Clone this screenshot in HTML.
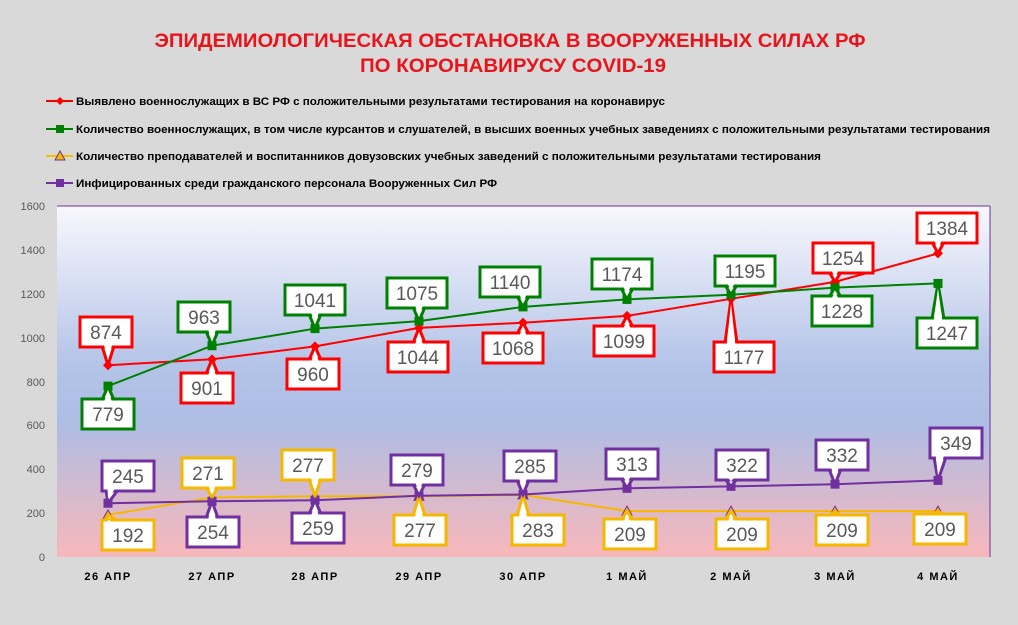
<!DOCTYPE html>
<html><head><meta charset="utf-8"><style>
body{margin:0;background:#d9d9d9;}
svg{display:block;font-family:"Liberation Sans","DejaVu Sans",sans-serif;}
</style></head><body>
<svg id="s" width="1018" height="625" viewBox="0 0 1018 625" xmlns="http://www.w3.org/2000/svg">
<defs>
<linearGradient id="bg" x1="0" y1="0" x2="0" y2="1">
<stop offset="0" stop-color="#f8f8fd"/>
<stop offset="0.45" stop-color="#b4c4e8"/>
<stop offset="0.62" stop-color="#aebde4"/>
<stop offset="1" stop-color="#f8b8bb"/>
</linearGradient>
</defs>
<rect width="1018" height="625" fill="#d9d9d9"/>
<text x="510" y="47" text-anchor="middle" font-size="19" font-weight="bold" fill="#e8141c" textLength="711" lengthAdjust="spacingAndGlyphs">ЭПИДЕМИОЛОГИЧЕСКАЯ ОБСТАНОВКА В ВООРУЖЕННЫХ СИЛАХ РФ</text>
<text x="513" y="72" text-anchor="middle" font-size="19" font-weight="bold" fill="#e8141c" textLength="306" lengthAdjust="spacingAndGlyphs">ПО КОРОНАВИРУСУ COVID-19</text>
<g font-size="11" font-weight="bold" fill="#000">
<line x1="46" y1="101" x2="73" y2="101" stroke="#ff0000" stroke-width="2"/><polygon points="60,97 64,101 60,105 56,101" fill="#ff0000"/>
<text x="76" y="105" textLength="589" lengthAdjust="spacingAndGlyphs">Выявлено военнослужащих в ВС РФ с положительными результатами тестирования на коронавирус</text>
<line x1="46" y1="129" x2="73" y2="129" stroke="#008000" stroke-width="2"/><rect x="56" y="125" width="8" height="8" fill="#008000"/>
<text x="76" y="133" textLength="914" lengthAdjust="spacingAndGlyphs">Количество военнослужащих, в том числе курсантов и слушателей, в высших военных учебных заведениях с положительными результатами тестирования</text>
<line x1="46" y1="156" x2="73" y2="156" stroke="#f5c000" stroke-width="2"/><polygon points="60,151 65,160 55,160" fill="#f5b800" stroke="#7030a0" stroke-width="1"/>
<text x="76" y="160" textLength="745" lengthAdjust="spacingAndGlyphs">Количество преподавателей и воспитанников довузовских учебных заведений с положительными результатами тестирования</text>
<line x1="46" y1="183" x2="73" y2="183" stroke="#7030a0" stroke-width="2"/><rect x="56" y="179" width="8" height="8" fill="#7030a0"/>
<text x="76" y="187" textLength="421" lengthAdjust="spacingAndGlyphs">Инфицированных среди гражданского персонала Вооруженных Сил РФ</text>
</g>
<rect x="57" y="206" width="933" height="351" fill="url(#bg)"/>
<line x1="57" y1="206" x2="990" y2="206" stroke="#7030a0" stroke-width="1"/>
<line x1="990" y1="206" x2="990" y2="557" stroke="#7030a0" stroke-width="1"/>
<g font-size="11" fill="#595959" text-anchor="end">
<text x="45" y="210">1600</text><text x="45" y="254">1400</text><text x="45" y="298">1200</text>
<text x="45" y="342">1000</text><text x="45" y="386">800</text><text x="45" y="429">600</text>
<text x="45" y="473">400</text><text x="45" y="517">200</text><text x="45" y="561">0</text>
</g>
<g font-size="11" font-weight="bold" fill="#000" text-anchor="middle" letter-spacing="1.5">
<text x="108" y="580">26 АПР</text><text x="212" y="580">27 АПР</text><text x="315" y="580">28 АПР</text>
<text x="419" y="580">29 АПР</text><text x="523" y="580">30 АПР</text><text x="627" y="580">1 МАЙ</text>
<text x="731" y="580">2 МАЙ</text><text x="835" y="580">3 МАЙ</text><text x="938" y="580">4 МАЙ</text>
</g>
<g id="g"></g>
</svg>
<script>
var X=[108,212,315,419,523,627,731,835,938];
function Y(v){return 557-v*0.2194;}
var S=[
{c:"#ff0000",m:"d",v:[874,901,960,1044,1068,1099,1177,1254,1384],
 b:[[106,332],[207,388],[313,374],[418,357],[513,348],[624,341],[744,357],[843,258],[947,228]]},
{c:"#008000",m:"s",v:[779,963,1041,1075,1140,1174,1195,1228,1247],
 b:[[108,414],[204,317],[315,300],[417,293],[510,282],[622,274],[745,271],[842,311],[947,333]]},
{c:"#f5b800",m:"t",v:[192,271,277,277,283,209,209,209,209],
 b:[[128,535],[208,473],[308,465],[420,530],[538,530],[630,534],[742,534],[842,530],[940,529]]},
{c:"#7030a0",m:"s",v:[245,254,259,279,285,313,322,332,349],
 b:[[128,476],[213,532],[318,528],[417,470],[530,466],[632,464],[742,465],[842,455],[956,443]]}
];
var h="",L="";
S.forEach(function(s){
 var p=s.v.map(function(v,i){return X[i]+","+Y(v).toFixed(1)}).join(" ");
 h+='<polyline points="'+p+'" fill="none" stroke="'+s.c+'" stroke-width="2"/>';
 s.v.forEach(function(v,i){
  var x=X[i],y=Y(v);
  if(s.m=="d")h+='<polygon points="'+x+','+(y-5)+' '+(x+5)+','+y+' '+x+','+(y+5)+' '+(x-5)+','+y+'" fill="'+s.c+'"/>';
  else if(s.m=="s")h+='<rect x="'+(x-4.5)+'" y="'+(y-4.5)+'" width="9" height="9" fill="'+s.c+'"/>';
  else h+='<polygon points="'+x+','+(y-5)+' '+(x+5)+','+(y+4)+' '+(x-5)+','+(y+4)+'" fill="#f5b800" stroke="#7030a0" stroke-width="1"/>';
 });
});
S.forEach(function(s){
 s.v.forEach(function(v,i){
  var x=X[i],y=Y(v),bx=s.b[i][0],by=s.b[i][1];
  var w=(""+v).length>3?60:52,hh=30;
  var ey=by<y?by+hh/2-1:by-hh/2+1;
  var ex=Math.max(bx-w/2+10,Math.min(bx+w/2-10,x));
  var tri=(ex-6)+','+ey+' '+(ex+6)+','+ey+' '+x+','+y.toFixed(1);
  L+='<polygon points="'+tri+'" fill="#fff" stroke="'+s.c+'" stroke-width="3" stroke-linejoin="miter"/>';
  L+='<rect x="'+(bx-w/2)+'" y="'+(by-hh/2)+'" width="'+w+'" height="'+hh+'" fill="#fff" stroke="'+s.c+'" stroke-width="3"/>';
  var ey2=by<y?ey-3:ey+3;
  L+='<polygon points="'+(ex-4.5)+','+ey2+' '+(ex+4.5)+','+ey2+' '+x+','+(y+(by<y?-5:5)).toFixed(1)+'" fill="#fff"/>';
  L+='<text x="'+bx+'" y="'+(by+7)+'" text-anchor="middle" font-size="19" fill="#595959">'+v+'</text>';
 });
});
document.getElementById("g").innerHTML=h+L;
</script>
</body></html>
